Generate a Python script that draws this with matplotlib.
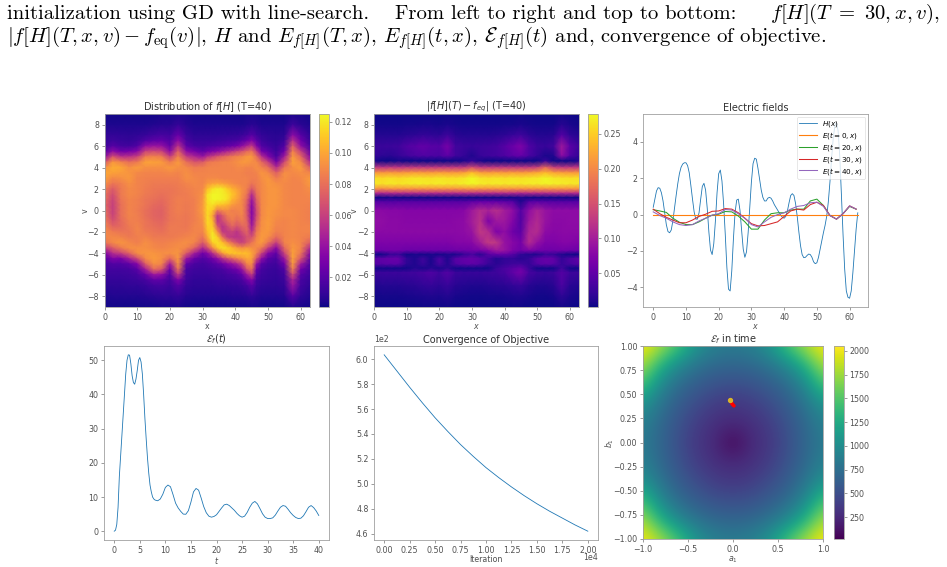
import numpy as np
import matplotlib
matplotlib.use('Agg')
import matplotlib.pyplot as plt

W, H = 947, 567

# phase space density at T=40, in units of 1e-3, on a grid packed around the vortex
f_x = [0, 2.5, 5, 7.5, 10, 12.5, 15, 17.5, 20, 22.5, 25, 27.5, 30, 31.5, 33, 34.5, 36, 37.5, 39, 40.5, 42, 43.5, 45,
       46.5, 48, 50, 52.5, 55, 57.5, 60, 63]
f_v = [9, 8, 7, 6.5, 6, 5.5, 5, 4.5, 4, 3.5, 3, 2.5, 2, 1.5, 1, 0.5, 0, -0.5, -1, -1.5, -2, -2.5, -3, -3.5, -4, -4.5,
       -5, -5.5, -6, -6.5, -7, -8, -9]
f_rows = np.array([
    [2, 2, 2, 2, 2, 2, 2, 3, 3, 4, 3, 2, 2, 2, 2, 2, 2, 2, 2, 2, 2, 3, 3, 3, 2, 2, 2, 2, 4, 3, 2],
    [4, 4, 4, 4, 4, 4, 5, 6, 6, 10, 6, 4, 4, 4, 4, 4, 4, 4, 4, 4, 4, 5, 7, 6, 4, 4, 4, 4, 13, 7, 4],
    [9, 10, 9, 8, 9, 11, 14, 16, 14, 26, 12, 8, 8, 8, 8, 8, 9, 9, 10, 10, 12, 15, 20, 14, 10, 8, 7, 8, 38, 20, 8],
    [10, 13, 11, 10, 12, 18, 22, 24, 18, 38, 16, 11, 11, 11, 11, 12, 13, 14, 15, 16, 20, 26, 34, 22, 13, 10, 8, 12, 55, 28, 10],
    [12, 20, 15, 14, 18, 38, 42, 40, 24, 55, 22, 16, 14, 16, 17, 18, 20, 22, 26, 30, 38, 48, 58, 34, 18, 14, 10, 18, 75, 38, 14],
    [20, 38, 28, 30, 36, 62, 65, 62, 38, 75, 38, 30, 22, 28, 32, 36, 42, 48, 54, 62, 68, 78, 82, 58, 30, 22, 12, 28, 88, 60, 22],
    [38, 70, 55, 55, 62, 85, 88, 85, 62, 88, 60, 50, 42, 55, 62, 70, 76, 80, 85, 88, 90, 95, 95, 80, 55, 35, 16, 45, 96, 78, 34],
    [70, 95, 88, 80, 84, 98, 98, 96, 85, 96, 80, 70, 72, 82, 85, 86, 88, 88, 90, 92, 95, 95, 92, 90, 78, 60, 30, 65, 98, 90, 50],
    [92, 102, 100, 92, 96, 92, 92, 92, 95, 92, 90, 85, 86, 88, 88, 88, 88, 88, 88, 90, 90, 88, 88, 92, 88, 80, 52, 82, 92, 96, 72],
    [100, 98, 96, 94, 90, 88, 88, 88, 90, 88, 92, 88, 88, 88, 88, 88, 88, 88, 88, 88, 88, 86, 86, 88, 94, 90, 74, 92, 90, 92, 88],
    [98, 90, 92, 95, 88, 87, 86, 86, 86, 86, 92, 90, 88, 90, 90, 90, 88, 88, 88, 88, 88, 88, 86, 86, 92, 95, 85, 92, 88, 90, 96],
    [92, 82, 86, 92, 88, 86, 84, 84, 84, 85, 88, 90, 88, 95, 98, 100, 98, 95, 92, 90, 88, 88, 82, 86, 90, 95, 92, 90, 88, 88, 96],
    [85, 72, 84, 90, 88, 85, 83, 82, 82, 84, 86, 88, 90, 108, 118, 122, 120, 112, 104, 98, 92, 86, 70, 84, 90, 94, 94, 90, 88, 88, 92],
    [82, 66, 84, 90, 88, 84, 82, 80, 82, 84, 85, 88, 92, 118, 124, 124, 122, 118, 110, 102, 92, 82, 52, 80, 90, 94, 94, 90, 88, 88, 90],
    [80, 62, 82, 88, 86, 82, 80, 78, 82, 86, 85, 86, 94, 118, 124, 124, 122, 118, 105, 98, 90, 76, 42, 74, 90, 94, 94, 90, 88, 88, 88],
    [78, 60, 80, 88, 86, 82, 78, 76, 82, 86, 84, 86, 95, 116, 118, 110, 108, 104, 96, 92, 90, 72, 36, 70, 90, 94, 94, 90, 88, 88, 87],
    [80, 60, 80, 88, 85, 80, 76, 74, 82, 86, 84, 86, 96, 116, 110, 84, 90, 92, 86, 88, 90, 70, 34, 66, 90, 95, 93, 90, 90, 88, 86],
    [82, 62, 80, 88, 86, 80, 76, 74, 82, 85, 83, 86, 94, 116, 100, 56, 70, 84, 88, 84, 88, 72, 35, 66, 90, 95, 92, 90, 90, 88, 86],
    [85, 68, 78, 86, 86, 82, 78, 76, 82, 84, 83, 86, 92, 116, 108, 55, 64, 76, 84, 78, 84, 76, 38, 72, 92, 96, 90, 88, 90, 88, 86],
    [88, 76, 78, 84, 88, 82, 80, 78, 84, 84, 83, 88, 90, 112, 112, 72, 54, 64, 76, 68, 76, 78, 44, 78, 92, 96, 88, 88, 90, 88, 88],
    [90, 85, 82, 82, 88, 84, 82, 80, 84, 84, 85, 88, 88, 108, 118, 92, 58, 58, 62, 55, 66, 76, 54, 84, 94, 95, 86, 88, 90, 88, 88],
    [88, 90, 88, 84, 86, 88, 84, 84, 84, 86, 88, 90, 82, 100, 122, 112, 82, 60, 56, 55, 58, 68, 68, 88, 96, 92, 78, 88, 90, 88, 84],
    [82, 90, 94, 90, 86, 92, 88, 86, 88, 90, 92, 88, 72, 88, 112, 118, 108, 92, 78, 66, 60, 70, 82, 92, 96, 82, 60, 88, 92, 88, 72],
    [58, 72, 84, 92, 92, 92, 90, 88, 90, 92, 88, 75, 50, 66, 90, 110, 118, 114, 106, 96, 92, 95, 92, 90, 84, 60, 36, 78, 95, 88, 48],
    [32, 52, 60, 75, 92, 94, 94, 92, 92, 94, 72, 45, 28, 36, 52, 74, 95, 108, 110, 110, 108, 108, 100, 86, 62, 34, 22, 62, 98, 82, 32],
    [20, 32, 30, 45, 64, 90, 96, 92, 76, 95, 42, 25, 18, 22, 28, 38, 52, 65, 75, 85, 92, 100, 98, 66, 38, 20, 16, 42, 98, 68, 22],
    [16, 18, 18, 22, 34, 72, 92, 88, 44, 92, 24, 16, 14, 16, 18, 22, 26, 34, 40, 48, 62, 88, 92, 40, 20, 15, 13, 28, 96, 44, 16],
    [14, 14, 14, 15, 20, 44, 78, 70, 26, 80, 16, 13, 12, 13, 14, 15, 16, 20, 24, 28, 40, 68, 80, 26, 15, 12, 11, 18, 86, 28, 14],
    [12, 12, 12, 13, 15, 24, 42, 38, 18, 56, 14, 11, 11, 11, 12, 13, 13, 15, 16, 18, 24, 42, 58, 18, 13, 11, 10, 14, 66, 20, 12],
    [10, 10, 10, 11, 12, 15, 22, 22, 14, 32, 12, 9, 9, 9, 10, 11, 11, 12, 13, 14, 16, 26, 34, 14, 11, 10, 9, 12, 48, 16, 10],
    [8, 8, 8, 9, 9, 11, 14, 15, 12, 20, 10, 8, 8, 8, 8, 9, 9, 9, 10, 10, 12, 15, 22, 12, 9, 8, 8, 10, 42, 14, 8],
    [4, 5, 5, 5, 5, 6, 7, 8, 8, 10, 6, 5, 5, 5, 5, 5, 5, 5, 6, 6, 6, 7, 9, 7, 5, 5, 5, 6, 20, 9, 5],
    [2, 2, 2, 2, 2, 2, 2, 3, 3, 4, 2, 2, 2, 2, 2, 2, 2, 2, 2, 2, 2, 2, 3, 3, 2, 2, 2, 2, 5, 3, 2],
])

# |f - feq| at T=40, in units of 1e-3, on a v grid packed around the zero lines
diff_x = [0, 2.5, 5, 7.5, 10, 12.5, 15, 17.5, 20, 22.5, 25, 27.5, 30, 32.5, 35, 37.5, 40, 42.5, 45, 47.5, 50, 52.5, 55,
          57.5, 60, 63]
diff_v = [9, 8, 7, 6, 5.1, 4.6, 4, 3.5, 3, 2.5, 2, 1.6, 1.2, 0.8, 0, -1, -2, -3, -3.75, -4.1, -4.5, -5, -5.4, -5.8, -7, -8, -9]
diff_rows = np.array([
    [3, 3, 3, 3, 3, 3, 3, 3, 3, 4, 3, 3, 3, 3, 3, 3, 3, 3, 4, 3, 3, 3, 3, 5, 4, 3],
    [5, 5, 5, 5, 6, 6, 7, 7, 6, 8, 6, 5, 5, 5, 5, 5, 6, 6, 8, 6, 5, 5, 5, 14, 8, 5],
    [12, 12, 12, 12, 16, 18, 22, 20, 18, 28, 16, 12, 12, 12, 12, 14, 18, 24, 30, 18, 12, 12, 14, 44, 20, 12],
    [25, 25, 26, 28, 40, 46, 52, 46, 42, 66, 30, 26, 24, 26, 28, 32, 44, 58, 70, 40, 26, 24, 30, 95, 48, 26],
    [22, 18, 16, 22, 30, 36, 40, 38, 36, 50, 30, 22, 10, 24, 28, 32, 38, 48, 55, 36, 22, 8, 10, 85, 40, 20],
    [8, 3, 3, 6, 3, 3, 3, 3, 3, 3, 3, 8, 22, 8, 3, 3, 3, 3, 3, 3, 3, 25, 3, 3, 3, 12],
    [130, 125, 130, 125, 130, 130, 130, 130, 130, 130, 130, 130, 150, 130, 130, 130, 130, 130, 130, 130, 135, 175, 135, 130, 130, 130],
    [215, 212, 215, 212, 215, 218, 216, 215, 218, 215, 215, 218, 240, 218, 215, 218, 215, 218, 215, 218, 225, 238, 222, 218, 215, 215],
    [262, 258, 262, 258, 262, 266, 264, 262, 266, 262, 262, 266, 278, 266, 262, 266, 262, 266, 262, 266, 268, 276, 268, 264, 262, 262],
    [268, 262, 268, 264, 268, 270, 270, 268, 270, 268, 268, 272, 276, 270, 268, 270, 268, 270, 268, 270, 270, 274, 272, 270, 268, 266],
    [205, 200, 205, 205, 205, 205, 205, 205, 205, 205, 205, 205, 208, 205, 205, 205, 205, 205, 205, 205, 205, 205, 205, 205, 205, 205],
    [115, 110, 115, 115, 115, 115, 115, 115, 115, 115, 115, 115, 115, 115, 115, 115, 115, 115, 110, 115, 115, 115, 115, 115, 115, 115],
    [5, 5, 8, 5, 5, 5, 5, 5, 5, 5, 5, 5, 5, 5, 5, 5, 5, 5, 10, 5, 5, 5, 5, 5, 5, 5],
    [45, 45, 42, 45, 45, 45, 45, 45, 45, 45, 45, 45, 50, 55, 55, 52, 50, 45, 10, 45, 48, 45, 45, 45, 45, 45],
    [80, 80, 78, 78, 76, 76, 76, 76, 76, 76, 76, 78, 95, 115, 105, 118, 100, 85, 42, 85, 105, 90, 82, 82, 82, 82],
    [85, 85, 80, 80, 78, 78, 78, 78, 78, 78, 80, 82, 100, 120, 70, 95, 95, 75, 40, 95, 112, 90, 80, 80, 82, 82],
    [80, 80, 80, 80, 80, 80, 80, 80, 80, 80, 80, 82, 90, 128, 115, 72, 85, 60, 48, 108, 115, 82, 78, 80, 80, 80],
    [72, 72, 72, 72, 72, 72, 72, 72, 72, 72, 76, 76, 78, 100, 130, 125, 90, 78, 65, 115, 88, 72, 72, 76, 76, 72],
    [60, 60, 62, 62, 58, 58, 58, 58, 58, 58, 60, 60, 62, 65, 75, 95, 90, 70, 60, 70, 62, 60, 60, 62, 60, 58],
    [5, 5, 22, 25, 5, 8, 6, 8, 6, 10, 8, 22, 35, 15, 45, 55, 55, 45, 20, 12, 10, 25, 22, 10, 5, 5],
    [48, 50, 55, 55, 20, 10, 28, 8, 38, 10, 45, 52, 55, 48, 32, 12, 20, 22, 14, 22, 48, 55, 52, 22, 38, 50],
    [42, 45, 48, 48, 18, 10, 25, 8, 34, 12, 40, 48, 50, 42, 25, 16, 24, 28, 30, 22, 42, 50, 46, 24, 34, 44],
    [5, 5, 5, 5, 5, 12, 8, 14, 8, 18, 5, 5, 5, 5, 5, 25, 35, 45, 55, 25, 5, 5, 5, 30, 5, 5],
    [26, 26, 26, 26, 28, 30, 34, 40, 30, 42, 26, 24, 24, 24, 26, 28, 34, 50, 65, 34, 26, 24, 26, 44, 28, 26],
    [10, 12, 12, 12, 14, 16, 20, 22, 18, 24, 14, 12, 10, 10, 12, 14, 16, 20, 24, 14, 10, 10, 14, 36, 16, 12],
    [5, 6, 6, 6, 7, 8, 9, 10, 9, 12, 7, 6, 5, 5, 6, 6, 7, 9, 10, 7, 5, 5, 7, 18, 9, 6],
    [3, 3, 3, 3, 3, 3, 4, 4, 4, 5, 3, 3, 3, 3, 3, 3, 3, 4, 4, 3, 3, 3, 3, 6, 4, 3],
])

# applied field H(x), x = 0, 0.5, ..., 62.5
h_field = [0.4, 0.85, 1.3, 1.48, 1.45, 1.2, 0.75, 0.1, -0.55, -0.93, -1.0, -0.85, -0.35, 0.35, 1.05, 1.7, 2.25, 2.6, 2.78, 2.85,
           2.85, 2.7, 2.3, 1.6, 0.85, 0.15, -0.25, -0.25, 0.1, 0.85, 1.55, 1.72, 1.35, 0.35, -0.95, -1.95, -2.2, -1.6, -0.35, 1.2,
           2.25, 2.45, 1.85, 0.6, -1.05, -2.9, -4.1, -4.2, -3.1, -1.35, 0.1, 0.8, 0.85, 0.25, -0.85, -1.9, -2.35, -2.05, -1.0, 0.4,
           1.8, 2.8, 3.1, 3.05, 2.55, 1.95, 1.35, 0.95, 0.75, 0.75, 0.9, 0.95, 0.9, 0.75, 0.55, 0.4, 0.25, 0.1, -0.05, -0.15,
           -0.2, -0.1, 0.2, 0.65, 1.05, 1.15, 1.05, 0.6, -0.1, -0.95, -1.7, -2.2, -2.37, -2.35, -2.25, -2.17, -2.2, -2.35, -2.6, -2.7,
           -2.65, -2.35, -1.9, -1.45, -1.0, -0.6, -0.1, 0.7, 1.8, 3.1, 4.2, 4.9, 5.05, 4.6, 3.2, 1.1, -1.1, -3.0, -4.2, -4.55,
           -4.6, -4.2, -3.2, -2.0, -0.8, 0.1]

# self-consistent field at three times, x = 0, 2, ..., 62
e_t20 = [0.27, 0.2, 0.12, -0.2, -0.42, -0.55, -0.55, -0.4, -0.2, -0.03, 0.02, 0.17, 0.15, -0.08, -0.4, -0.8,
         -0.8, -0.3, 0.05, 0.1, 0.1, 0.25, 0.3, 0.3, 0.75, 0.85, 0.5, -0.05, -0.25, 0.05, 0.45, 0.3]
e_t30 = [0.3, 0.05, -0.15, -0.3, -0.45, -0.45, -0.3, -0.1, 0.02, 0.18, 0.2, 0.33, 0.3, 0.1, -0.2, -0.5,
         -0.62, -0.6, -0.5, -0.4, -0.1, 0.2, 0.3, 0.25, 0.55, 0.68, 0.5, -0.05, -0.25, 0.05, 0.48, 0.3]
e_t40 = [0.15, -0.05, -0.2, -0.4, -0.55, -0.6, -0.55, -0.35, -0.2, -0.03, 0.05, 0.28, 0.25, 0.05, -0.2, -0.55,
         -0.68, -0.4, -0.15, 0.0, 0.1, 0.3, 0.45, 0.5, 0.65, 0.68, 0.45, -0.05, -0.25, 0.05, 0.48, 0.3]

# field energy over time: step 0.25 up to t=8, then step 0.5 up to t=40
energy_head = [0, 0.3, 2, 7, 16, 22, 28, 34, 40, 46, 50, 51.6, 51.5, 49, 45.5, 43.5, 43, 44.5, 47, 50, 50.8, 49.5, 46, 40,
               33, 27, 21.5, 17, 13.5, 11.5, 10, 9.4]
energy_tail = [9.1, 8.9, 9.4, 10.8, 12.8, 13.5, 13, 10.7, 8.2, 6.8, 5.8, 5, 4.95, 6, 8.5, 11.5, 12.5, 12, 9.7, 7.2,
               5.4, 4.4, 4.1, 4.3, 4.8, 5.8, 6.8, 7.7, 7.9, 7.5, 6.8, 6.1, 5.2, 4.5, 4.1, 4.4, 5.5, 7, 8.2, 8.7,
               8, 6.6, 5.1, 4.1, 3.7, 3.7, 3.9, 4.7, 5.9, 7, 7.5, 7.3, 6.4, 5.4, 4.6, 4, 3.7, 3.8, 4.5, 5.7,
               7, 7.5, 6.9, 5.9, 4.6]

# objective every 1250 iterations
objective = [603.5, 590.5, 577.5, 565, 553, 542, 531.5, 522, 513, 505, 497.5, 490.5, 484, 478, 472.5, 467, 462]

# energy landscape over (a1, b1), one quadrant with steps of 0.2
energy_quadrant = np.array([
    [20, 260, 340, 500, 680, 850],
    [260, 290, 380, 530, 700, 900],
    [340, 380, 480, 610, 790, 1060],
    [500, 530, 610, 730, 960, 1450],
    [680, 700, 790, 960, 1300, 1780],
    [850, 900, 1060, 1450, 1780, 2040],
])

# optimisation path in the (a1, b1) plane
path_a = [-0.03, -0.02, -0.01, 0.0, 0.01]
path_b = [0.44, 0.42, 0.40, 0.39, 0.38]

legend_labels = ['$H(x)$', '$E(t=0,x)$', '$E(t=20,x)$', '$E(t=30,x)$', '$E(t=40,x)$']

TICK = 5.7
LABEL = 5.7
TITLE = 7.0
LINE_W = 0.6
SPINE = '#a0a0a0'
TEXT = '#505050'

plt.rcParams.update({
    'font.size': TICK,
    'axes.linewidth': 0.6,
    'axes.edgecolor': SPINE,
    'xtick.major.size': 2,
    'ytick.major.size': 2,
    'xtick.major.width': 0.4,
    'ytick.major.width': 0.4,
    'xtick.major.pad': 2,
    'ytick.major.pad': 2,
    'xtick.color': TEXT,
    'ytick.color': TEXT,
    'axes.labelcolor': TEXT,
    'axes.labelsize': LABEL,
    'axes.labelpad': 0.5,
    'axes.titlesize': TITLE,
    'axes.titlepad': 2,
    'axes.titlecolor': '#303030',
})


def px_axes(fig, left, top, right, bottom):
    return fig.add_axes([left / W, 1 - bottom / H, (right - left) / W, (bottom - top) / H])


def add_colorbar(fig, im, left, top, right, bottom, ticks):
    cax = px_axes(fig, left, top, right, bottom)
    cb = fig.colorbar(im, cax=cax, ticks=ticks)
    cb.outline.set_linewidth(0.6)
    cb.outline.set_edgecolor(SPINE)
    return cb


fig = plt.figure(figsize=(W / 100, H / 100), dpi=100, facecolor='white')

# paragraph above the panels
para = dict(family='cmr10', math_fontfamily='cm', fontsize=14.9, color='black', va='baseline', ha='left')
fig.text(7 / W, 1 - 19 / H, 'initialization using GD with line-search.', **para)
fig.text(395 / W, 1 - 19 / H, 'From left to right and top to bottom:', **para)
fig.text(770 / W, 1 - 19 / H, r'$f[H](T\ =\ 30,x,v)$,', **para)
fig.text(7 / W, 1 - 43 / H, r'$|f[H](T,x,v)-f_{\mathrm{eq}}(v)|$, $H$ and $E_{f[H]}(T,x)$, '
         r'$E_{f[H]}(t,x)$, $\mathcal{E}_{f[H]}(t)$ and, convergence of objective.', **para)

# distribution at the final time
ax1 = px_axes(fig, 104.5, 114, 310, 307)
im1 = ax1.pcolormesh(f_x, f_v, f_rows * 1e-3, cmap='plasma', vmin=0.001, vmax=0.125, shading='gouraud')
ax1.set_xlim(0, 62.8)
ax1.set_ylim(-9, 9)
ax1.set_xticks(range(0, 61, 10))
ax1.set_yticks(range(-8, 9, 2))
ax1.set_xlabel('x')
ax1.set_ylabel('v', labelpad=-1.5)
ax1.set_title('Distribution of $f[H]$ (T=40)')
add_colorbar(fig, im1, 319, 114, 329, 307, [0.02, 0.04, 0.06, 0.08, 0.10, 0.12])

# distance from equilibrium
ax2 = px_axes(fig, 374, 114, 579, 307)
im2 = ax2.pcolormesh(diff_x, diff_v, diff_rows * 1e-3, cmap='plasma', vmin=0.002, vmax=0.278, shading='gouraud')
ax2.set_xlim(0, 62.8)
ax2.set_ylim(-9, 9)
ax2.set_xticks(range(0, 61, 10))
ax2.set_yticks(range(-8, 9, 2))
ax2.set_xlabel('$x$')
ax2.set_ylabel('v', labelpad=-1.5)
ax2.set_title('$|f[H](T)-f_{eq}|$ (T=40)')
add_colorbar(fig, im2, 588, 114, 598, 307, [0.05, 0.10, 0.15, 0.20, 0.25])

# electric fields
ax3 = px_axes(fig, 643, 114, 868, 307)
x_h = np.arange(len(h_field)) * 0.5
x_e = np.arange(len(e_t20)) * 2.0
ax3.plot(x_h, h_field, lw=LINE_W, label=legend_labels[0])
ax3.plot(x_h, np.zeros_like(x_h), lw=0.8, label=legend_labels[1])
ax3.plot(x_e, e_t20, lw=0.75, label=legend_labels[2])
ax3.plot(x_e, e_t30, lw=0.75, label=legend_labels[3])
ax3.plot(x_e, e_t40, lw=0.75, label=legend_labels[4])
ax3.set_yticks([-4, -2, 0, 2, 4])
ax3.set_xlabel('$x$')
ax3.set_title('Electric fields')
ax3.legend(loc='upper right', fontsize=5.2, borderaxespad=0.4, labelspacing=0.12, handlelength=2.4, borderpad=0.3,
           edgecolor='#cccccc').get_frame().set_linewidth(0.4)

# energy history
ax4 = px_axes(fig, 104, 346, 329, 540)
t_energy = np.concatenate([np.arange(len(energy_head)) * 0.25, 8 + np.arange(len(energy_tail)) * 0.5])
ax4.plot(t_energy, energy_head + energy_tail, lw=LINE_W)
ax4.set_xlabel('$t$')
ax4.set_title(r'$\mathcal{E}_f(t)$')

# objective history
ax5 = px_axes(fig, 374, 346, 598, 540)
ax5.plot(np.arange(len(objective)) * 1250, objective, lw=LINE_W)
ax5.ticklabel_format(style='sci', scilimits=(0, 0), axis='both')
ax5.xaxis.OFFSETTEXTPAD = -1
ax5.xaxis.get_offset_text().set_size(TICK)
ax5.yaxis.get_offset_text().set_size(TICK)
ax5.set_xlabel('Iteration')
ax5.set_title('Convergence of Objective')

# energy landscape with the descent path on top
ax6 = px_axes(fig, 643, 346, 823, 539)
right_half = np.hstack([energy_quadrant[:, :0:-1], energy_quadrant])
landscape = np.vstack([right_half[:0:-1], right_half])
im6 = ax6.imshow(landscape, cmap='viridis', aspect='auto', interpolation='bicubic', origin='lower',
                 vmin=20, vmax=2050, extent=[-1.1, 1.1, -1.1, 1.1])
ax6.plot(path_a, path_b, color='red', lw=2.6, solid_capstyle='round')
ax6.scatter(path_a[:1], path_b[:1], color='#d9b52a', s=8, zorder=3)
ax6.set_xlim(-1, 1)
ax6.set_ylim(-1, 1)
ax6.set_xticks([-1, -0.5, 0, 0.5, 1])
ax6.set_yticks(np.arange(-1, 1.01, 0.25))
ax6.set_xlabel('$a_1$')
ax6.set_ylabel('$b_1$', labelpad=-2)
ax6.set_title(r'$\mathcal{E}_f$ in time')
add_colorbar(fig, im6, 834, 346, 844, 539, [250, 500, 750, 1000, 1250, 1500, 1750, 2000])

fig.savefig('out.png', dpi=100)
plt.close()
